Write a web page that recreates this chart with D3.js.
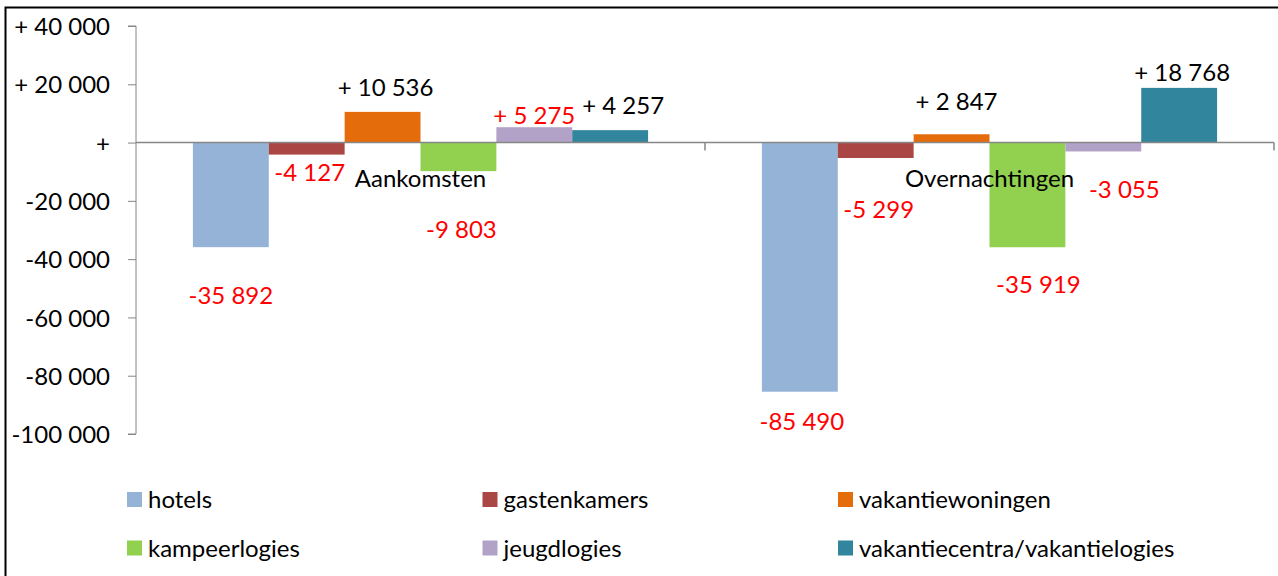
<!DOCTYPE html>
<html>
<head>
<meta charset="utf-8">
<script src="https://cdn.jsdelivr.net/npm/d3@7"></script>
<style>
  body { margin: 0; background: #fff; }
  svg { display: block; font-family: Lato, "Open Sans", sans-serif; }
</style>
</head>
<body>
<svg id="chart" width="1278" height="576"></svg>
<script>
// categories on the x axis
const categories = ["Aankomsten", "Overnachtingen"];
// one series per accommodation type
const series = ["hotels", "gastenkamers", "vakantiewoningen", "kampeerlogies", "jeugdlogies", "vakantiecentra/vakantielogies"];
const aankomsten = [-35892, -4127, 10536, -9803, 5275, 4257];
const overnachtingen = [-85490, -5299, 2847, -35919, -3055, 18768];
const yTicks = [40000, 20000, 0, -20000, -40000, -60000, -80000, -100000];

const colors = ["#95b3d7", "#aa4643", "#e46c0a", "#92d050", "#b3a2c7", "#31859c"];
// hand-placed labels in the original: [dx from bar centre, dy of label centre from bar end]
const labelShift = [
  [[0, 48], [3, 18], [3, -25], [3, 58], [0, -12], [13, -25]],
  [[2, 30], [3, 51], [5, -33], [11, 37], [21, 38], [3, -16]]
];

const values = [aankomsten, overnachtingen];
const svg = d3.select("#chart");
const fontSize = 24;

// chart border (only top/left visible in the crop)
svg.append("rect")
  .attr("x", 5.5).attr("y", 7.5)
  .attr("width", 1300).attr("height", 600)
  .attr("fill", "none").attr("stroke", "#000").attr("stroke-width", 2);

const plotLeft = 136, plotRight = 1274, plotTop = 26, plotBottom = 434;

const y = d3.scaleLinear().domain([-100000, 40000]).range([plotBottom, plotTop]);
const x0 = d3.scaleBand().domain(categories).range([plotLeft, plotRight]);
const x1 = d3.scaleBand().domain(series).range([0, x0.bandwidth()]).paddingOuter(0.75);

const fmtNum = v => d3.format(",")(Math.abs(v)).replace(/,/g, " ");
const fmtTick = v => v > 0 ? "+ " + fmtNum(v) : v === 0 ? "+" : "-" + fmtNum(v);

// y axis
const yAxis = svg.append("g")
  .attr("transform", `translate(${plotLeft},0)`)
  .call(d3.axisLeft(y).tickValues(yTicks).tickFormat(fmtTick).tickSize(8).tickPadding(18));
yAxis.select(".domain").attr("stroke", "#868686").attr("d", `M-8,${plotBottom}H0V${plotTop}H-8`);
yAxis.selectAll(".tick line").attr("stroke", "#868686");
yAxis.selectAll(".tick text")
  .attr("fill", "#000").attr("font-size", fontSize).attr("font-family", "Lato, sans-serif")
  .attr("dy", "0.36em");

// bars
const groups = svg.append("g").selectAll("g")
  .data(categories)
  .join("g")
  .attr("transform", c => `translate(${x0(c)},0)`);

groups.selectAll("rect")
  .data((c, ci) => series.map((s, si) => ({ s, si, ci, v: values[ci][si] })))
  .join("rect")
  .attr("x", d => x1(d.s))
  .attr("width", x1.bandwidth())
  .attr("y", d => y(Math.max(0, d.v)))
  .attr("height", d => Math.abs(y(d.v) - y(0)))
  .attr("fill", d => colors[d.si]);

// horizontal axis at zero, drawn over the bars
const xAxis = svg.append("g");
xAxis.append("line")
  .attr("x1", plotLeft).attr("x2", plotRight)
  .attr("y1", y(0)).attr("y2", y(0))
  .attr("stroke", "#868686").attr("stroke-width", 1.5);
xAxis.selectAll(".xt")
  .data(categories.map(c => x0(c) + x0.bandwidth()))
  .join("line")
  .attr("x1", d => d).attr("x2", d => d)
  .attr("y1", y(0)).attr("y2", y(0) + 8)
  .attr("stroke", "#868686").attr("stroke-width", 1.5);
xAxis.selectAll("text")
  .data(categories)
  .join("text")
  .attr("x", c => x0(c) + x0.bandwidth() / 2)
  .attr("y", y(0) + 36)
  .attr("dy", "0.36em")
  .attr("text-anchor", "middle")
  .attr("font-size", fontSize)
  .text(c => c);

// data labels
groups.selectAll("text")
  .data((c, ci) => series.map((s, si) => ({ s, si, ci, v: values[ci][si] })))
  .join("text")
  .attr("x", d => x1(d.s) + x1.bandwidth() / 2 + labelShift[d.ci][d.si][0])
  .attr("y", d => y(d.v) + labelShift[d.ci][d.si][1])
  .attr("dy", "0.36em")
  .attr("text-anchor", "middle")
  .attr("font-size", fontSize)
  .attr("fill", d => (d.v < 0 || d.s === "jeugdlogies") ? "#ff0000" : "#000")
  .text(d => d.v > 0 ? "+ " + fmtNum(d.v) : "-" + fmtNum(d.v));

// legend: 3 columns x 2 rows
const legend = svg.append("g").selectAll("g")
  .data(series)
  .join("g")
  .attr("transform", (s, i) => `translate(${127 + (i % 3) * 355.5},${492 + Math.floor(i / 3) * 48.5})`);
legend.append("rect")
  .attr("width", 15).attr("height", 15)
  .attr("fill", (s, i) => colors[i]);
legend.append("text")
  .attr("x", 21).attr("y", 7.5).attr("dy", "0.36em")
  .attr("font-size", fontSize)
  .text(s => s);
</script>
</body>
</html>
